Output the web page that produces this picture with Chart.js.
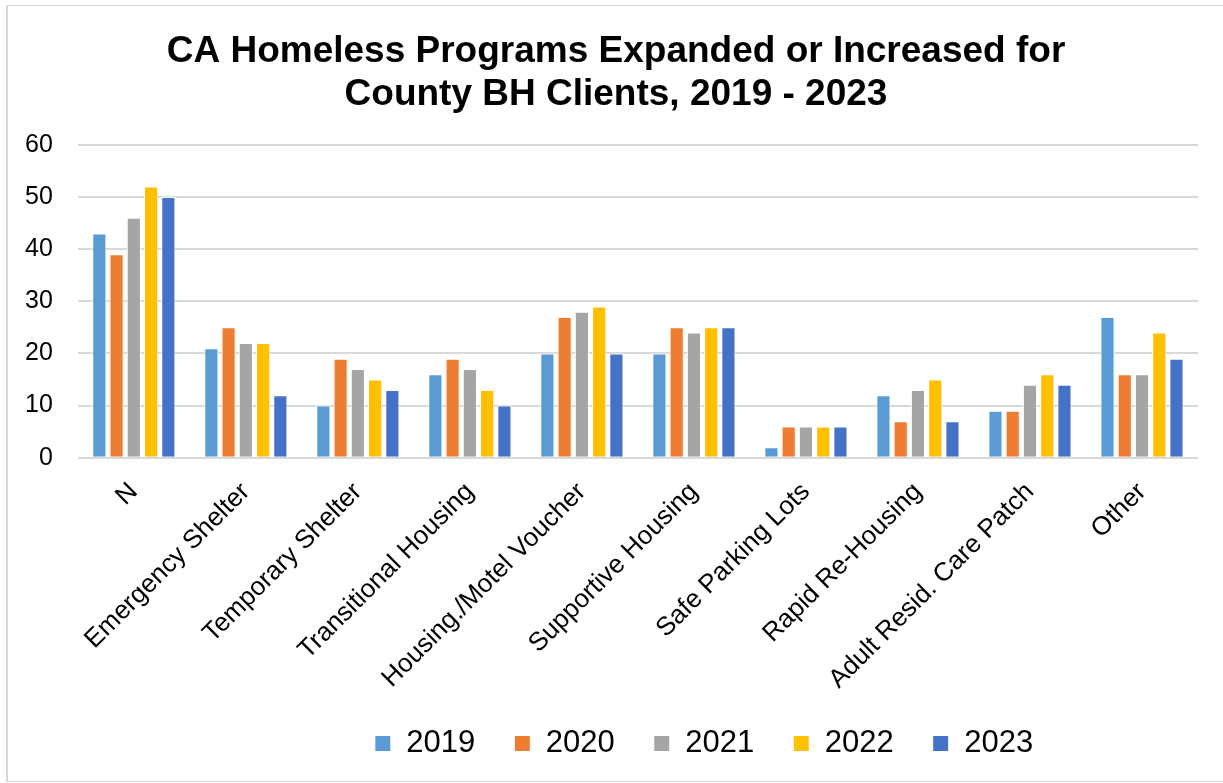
<!DOCTYPE html>
<html>
<head>
<meta charset="utf-8">
<style>
    html, body { margin: 0; padding: 0; background: #fff; overflow: hidden; }
    #wrap { position: relative; width: 1223px; height: 783px; overflow: hidden; }
    #frame { position: absolute; left: 6px; top: 5px; width: 1240px; height: 775px;
             border-left: 2px solid #d9d9d9; border-top: 1px solid #d9d9d9; border-bottom: 1px solid #d9d9d9; }
    #programsChart { position: absolute; left: 0; top: 0; }
</style>
</head>
<body>
<div id="wrap">
    <div id="frame"></div>
    <canvas id="programsChart" width="1223" height="783"></canvas>
</div>

<script src="https://cdn.jsdelivr.net/npm/chart.js@4.4.0/dist/chart.umd.min.js"></script>
<script>
    var categories = ['N', 'Emergency Shelter', 'Temporary Shelter', 'Transitional Housing',
        'Housing./Motel Voucher', 'Supportive Housing', 'Safe Parking Lots',
        'Rapid Re-Housing', 'Adult Resid. Care Patch', 'Other'];
    var years = ['2019', '2020', '2021', '2022', '2023'];
    var values2019 = [43, 21, 10, 16, 20, 20, 2, 12, 9, 27];
    var values2020 = [39, 25, 19, 19, 27, 25, 6, 7, 9, 16];
    var values2021 = [46, 22, 17, 17, 28, 24, 6, 13, 14, 16];
    var values2022 = [52, 22, 15, 13, 29, 25, 6, 15, 16, 24];
    var values2023 = [50, 12, 13, 10, 20, 25, 6, 7, 14, 19];
    var yTicks = [0, 10, 20, 30, 40, 50, 60];

    var colors = ['#5B9BD5', '#ED7D31', '#A5A5A5', '#FFC000', '#4472C4'];
    var series = [values2019, values2020, values2021, values2022, values2023];

    var font = "'Liberation Sans', Arial, sans-serif";

    // the original has title and legend a bit right of the plot centre
    var shiftBoxes = {
        id: 'shiftBoxes',
        afterLayout: function(chart) {
            if (chart.titleBlock) {
                chart.titleBlock.left += 17;
                chart.titleBlock.right += 17;
            }
            if (chart.legend) {
                chart.legend.left += 105;
                chart.legend.right += 105;
            }
        }
    };

    var ctx = document.getElementById('programsChart').getContext('2d');
    var chart = new Chart(ctx, {
        type: 'bar',
        data: {
            labels: categories,
            datasets: series.map(function(vals, i) {
                return {
                    label: years[i],
                    data: vals,
                    backgroundColor: colors[i],
                    borderColor: '#ffffff',
                    borderWidth: 1,
                    categoryPercentage: 0.77,
                    barPercentage: 0.82
                };
            })
        },
        plugins: [shiftBoxes],
        options: {
            responsive: false,
            animation: false,
            layout: {
                padding: { left: 0, right: 25, top: 30, bottom: 14 }
            },
            plugins: {
                title: {
                    display: true,
                    text: ['CA Homeless Programs Expanded or Increased for', 'County BH Clients, 2019 - 2023'],
                    color: '#000',
                    font: { family: font, size: 37, weight: 'bold', lineHeight: 1.16 },
                    padding: { top: 0, bottom: 29 }
                },
                legend: {
                    position: 'bottom',
                    labels: {
                        color: '#000',
                        font: { family: font, size: 31 },
                        boxWidth: 16,
                        boxHeight: 16,
                        padding: 39
                    }
                },
                tooltip: { enabled: false }
            },
            scales: {
                x: {
                    grid: { display: false, drawTicks: false },
                    border: { display: false },
                    afterFit: function(axis) {
                        axis.height -= 25;
                    },
                    ticks: {
                        color: '#000',
                        font: { family: font, size: 26 },
                        maxRotation: 45,
                        minRotation: 45,
                        autoSkip: false,
                        padding: 19
                    }
                },
                y: {
                    min: 0,
                    max: 60,
                    afterBuildTicks: function(axis) {
                        axis.ticks = yTicks.map(function(v) { return { value: v }; });
                    },
                    grid: { color: '#d9d9d9', lineWidth: 2, drawTicks: false },
                    border: { display: false },
                    ticks: {
                        color: '#000',
                        font: { family: font, size: 25 },
                        padding: 25
                    }
                }
            }
        }
    });
</script>
</body>
</html>
